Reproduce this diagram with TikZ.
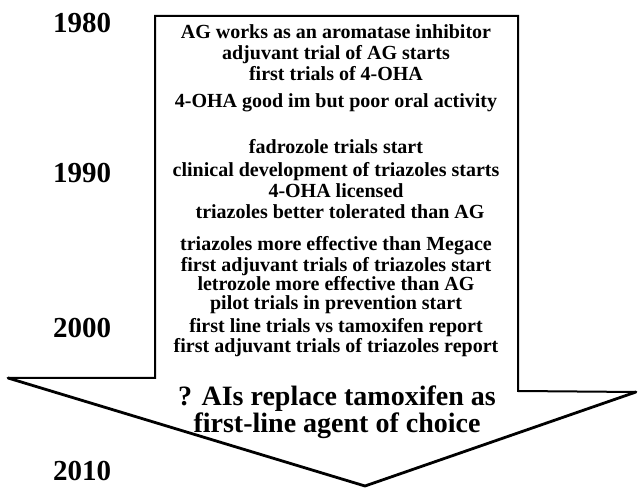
\documentclass[tikz,border=0pt]{standalone}
\usepackage{fontspec}
\setmainfont{Liberation Serif}
\begin{document}
\begin{tikzpicture}[x=1pt,y=-1pt,
  outline/.style={line width=2pt,line join=miter},
  headline/.style={line width=2.8pt,line cap=round,line join=round},
  event/.style={font=\fontsize{20}{20}\selectfont\bfseries,anchor=base,inner sep=0pt},
  bigevent/.style={font=\fontsize{28}{28}\selectfont\bfseries,anchor=base,inner sep=0pt},
  yearlabel/.style={font=\fontsize{29}{29}\selectfont\bfseries,anchor=base,inner sep=0pt}]
\useasboundingbox (0,0) rectangle (638,489);

% corners of the timeline arrow
\coordinate (ltip) at (8,378);
\coordinate (lsh)  at (155,378);
\coordinate (tl)   at (155,16);
\coordinate (tr)   at (518,16);
\coordinate (rsh)  at (518,391);
\coordinate (rtip) at (636,392);
\coordinate (point) at (365,486);

\fill[white] (ltip) -- (lsh) -- (tl) -- (tr) -- (rsh) -- (rtip) -- (point) -- cycle;
\draw[outline] (ltip) -- (lsh) -- (tl) -- (tr) -- (rsh) -- (rtip);
\draw[headline] (ltip) -- (point) -- (rtip);

% decade labels
\node[yearlabel] (y1980) at (82,33)  {1980};
\node[yearlabel] (y1990) at (82,183) {1990};
\node[yearlabel] (y2000) at (82,338) {2000};
\node[yearlabel] (y2010) at (82,480) {2010};

% events
\node[event] (e1)  at (336,39)  {AG works as an aromatase inhibitor};
\node[event] (e2)  at (336,60)  {adjuvant trial of AG starts};
\node[event] (e3)  at (336,81)  {first trials of 4-OHA};
\node[event] (e4)  at (336,108) {4-OHA good im but poor oral activity};
\node[event] (e5)  at (336,154) {fadrozole trials start};
\node[event] (e6)  at (336,177) {clinical development of triazoles starts};
\node[event] (e7)  at (336,198) {4-OHA licensed};
\node[event] (e8)  at (340,219) {triazoles better tolerated than AG};
\node[event] (e9)  at (336,251) {triazoles more effective than Megace};
\node[event] (e10) at (336,272) {first adjuvant trials of triazoles start};
\node[event] (e11) at (336,291) {letrozole more effective than AG};
\node[event] (e12) at (336,310) {pilot trials in prevention start};
\node[event] (e13) at (336,333) {first line trials vs tamoxifen report};
\node[event] (e14) at (336,353) {first adjuvant trials of triazoles report};
\node[bigevent] (q1) at (337,406) {? AIs replace tamoxifen as};
\node[bigevent] (q2) at (337,432) {first-line agent of choice};
\end{tikzpicture}
\end{document}
